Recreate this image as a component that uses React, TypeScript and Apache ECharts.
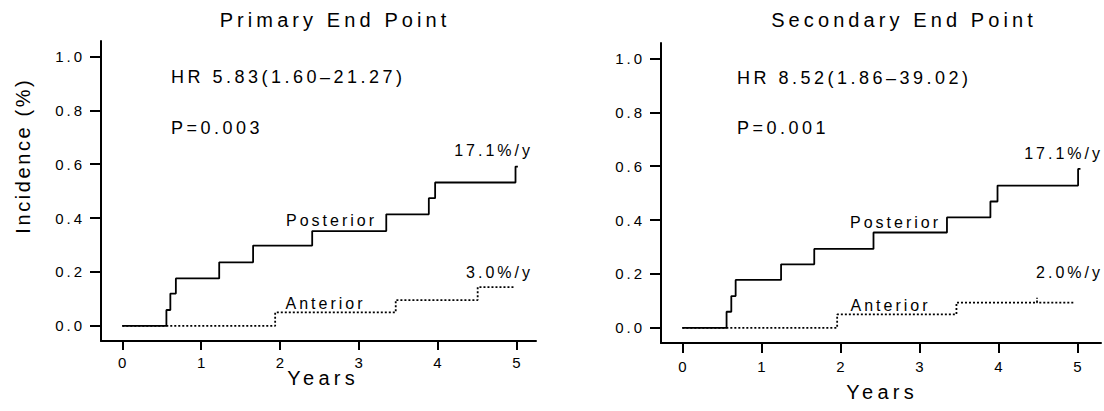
import React, { useEffect, useRef } from "react";
import * as echarts from "echarts";

// ---- data ----
const primaryPosterior: [number, number][] = [
  [0, 0], [0.56, 0.059], [0.61, 0.12], [0.68, 0.176], [1.23, 0.236], [1.66, 0.298],
  [2.41, 0.352], [3.35, 0.414], [3.89, 0.474], [3.97, 0.532], [4.99, 0.591], [5.02, 0.591],
];
const primaryAnterior: [number, number][] = [
  [0, 0], [1.94, 0.05], [3.47, 0.096], [4.51, 0.144], [4.97, 0.144],
];
const secondaryPosterior: [number, number][] = [
  [0, 0], [0.56, 0.06], [0.62, 0.118], [0.675, 0.178], [1.25, 0.236], [1.67, 0.293],
  [2.42, 0.354], [3.35, 0.41], [3.9, 0.469], [3.99, 0.528], [5.01, 0.59], [5.04, 0.59],
];
const secondaryAnterior: [number, number][] = [
  [0, 0], [1.96, 0.05], [3.47, 0.094], [4.49, 0.094], [4.49, 0.112], [4.49, 0.094], [4.95, 0.094],
];
const xTicks = [0, 1, 2, 3, 4, 5];
const yTicks = [0, 0.2, 0.4, 0.6, 0.8, 1.0];
const titles = ["Primary End Point", "Secondary End Point"];
const hrTexts = ["HR 5.83(1.60\u201321.27)", "HR 8.52(1.86\u201339.02)"];
const pTexts = ["P=0.003", "P=0.001"];
const posteriorRates = ["17.1%/y", "17.1%/y"];
const anteriorRates = ["3.0%/y", "2.0%/y"];
const xName = "Years";
const yName = "Incidence (%)";

const FONT = "'Liberation Sans', Arial, Helvetica, sans-serif";

function spacingFor(t: string): number {
  if (titles.includes(t)) return 4.1;
  if (hrTexts.includes(t) || pTexts.includes(t)) return 3.5;
  if (t === xName) return 4.3;
  if (t === yName) return 2.6;
  return 3;
}

export default function App() {
  const ref = useRef<HTMLDivElement>(null);
  useEffect(() => {
    const el = ref.current;
    if (!el) return;
    const chart = echarts.init(el, undefined, { renderer: "svg" });
    const grids = [
      { left: 101, top: 41, width: 435, height: 300 },
      { left: 661, top: 43, width: 440, height: 300 },
    ];
    const mkX = (i: number) => ({
      type: "value",
      gridIndex: i,
      min: -0.27,
      max: i === 0 ? 5.25 : 5.3,
      splitLine: { show: false },
      axisLine: { show: true, onZero: false, lineStyle: { color: "#000", width: 2 } },
      axisTick: { show: true, customValues: xTicks, length: i === 0 ? 9 : 10, lineStyle: { color: "#000", width: 2 } },
      axisLabel: {
        customValues: xTicks,
        color: "#000",
        fontFamily: FONT,
        fontSize: 15,
        margin: i === 0 ? 14 : 16,
        formatter: (v: number) => String(v),
      },
    });
    const mkY = (i: number) => ({
      type: "value",
      gridIndex: i,
      min: -0.056,
      max: 1.057,
      splitLine: { show: false },
      axisLine: { show: true, onZero: false, lineStyle: { color: "#000", width: 2 } },
      axisTick: { show: true, customValues: yTicks, length: 11, lineStyle: { color: "#000", width: 2 } },
      axisLabel: {
        customValues: yTicks,
        color: "#000",
        fontFamily: FONT,
        fontSize: 15,
        margin: 19,
        formatter: (v: number) => v.toFixed(1),
      },
    });
    const solid = (data: [number, number][], i: number) => ({
      type: "line",
      xAxisIndex: i,
      yAxisIndex: i,
      data,
      step: "end",
      symbol: "none",
      z: 3,
      lineStyle: { color: "#000", width: 1.8, type: "solid" },
    });
    const dotted = (data: [number, number][], i: number) => ({
      type: "line",
      xAxisIndex: i,
      yAxisIndex: i,
      data,
      step: "end",
      symbol: "none",
      z: 2,
      lineStyle: { color: "#000", width: 1.8, type: [2, 2] },
    });
    const txt = (text: string, x: number, y: number, size: number, align = "left", rotation = 0) => ({
      type: "text",
      x,
      y,
      rotation,
      style: {
        text,
        fill: "#000",
        font: `${size}px ${FONT}`,
        align,
        textAlign: align,
        verticalAlign: "middle",
        textVerticalAlign: "middle",
      },
    });
    chart.setOption({
      animation: false,
      backgroundColor: "#fff",
      grid: grids,
      xAxis: [mkX(0), mkX(1)],
      yAxis: [mkY(0), mkY(1)],
      series: [
        dotted(primaryAnterior, 0),
        solid(primaryPosterior, 0),
        dotted(secondaryAnterior, 1),
        solid(secondaryPosterior, 1),
      ],
      graphic: [
        txt(titles[0], 333, 20, 20, "center"),
        txt(titles[1], 902, 20, 20, "center"),
        txt(hrTexts[0], 171, 77, 18),
        txt(hrTexts[1], 737, 78, 18),
        txt(pTexts[0], 171, 128, 18),
        txt(pTexts[1], 737, 128, 18),
        txt(posteriorRates[0], 530, 150, 16, "right"),
        txt(posteriorRates[1], 1100, 153, 16, "right"),
        txt(anteriorRates[0], 530, 272, 16, "right"),
        txt(anteriorRates[1], 1100, 272, 16, "right"),
        txt("Posterior", 330, 220, 16, "center"),
        txt("Posterior", 894, 222, 16, "center"),
        txt("Anterior", 324, 303, 16, "center"),
        txt("Anterior", 889, 305, 16, "center"),
        txt(xName, 321, 378, 20, "center"),
        txt(xName, 880, 392, 20, "center"),
        txt(yName, 23, 157, 20, "center", Math.PI / 2),
      ],
    });
    const applySpacing = () => {
      el.querySelectorAll("text").forEach((t) => {
        const content = t.textContent || "";
        const s = spacingFor(content);
        const anchor = t.getAttribute("text-anchor") || "start";
        const dx = anchor === "end" ? s : anchor === "middle" ? s / 2 : 0;
        if (t.getAttribute("letter-spacing") !== String(s)) t.setAttribute("letter-spacing", String(s));
        if (t.getAttribute("dx") !== String(dx)) t.setAttribute("dx", String(dx));
        t.style.letterSpacing = s + "px";
      });
    };
    chart.on("finished", applySpacing);
    chart.on("rendered", applySpacing);
    applySpacing();
    const mo = new MutationObserver(() => applySpacing());
    mo.observe(el, { childList: true, subtree: true, characterData: true });
    const raf = requestAnimationFrame(applySpacing);
    const timers = [50, 200, 500].map((d) => setTimeout(applySpacing, d));
    return () => {
      mo.disconnect();
      cancelAnimationFrame(raf);
      timers.forEach(clearTimeout);
      chart.dispose();
    };
  }, []);
  return (
    <div
      ref={ref}
      style={{ position: "absolute", left: 0, top: 0, width: 1104, height: 411, background: "#fff" }}
    />
  );
}
